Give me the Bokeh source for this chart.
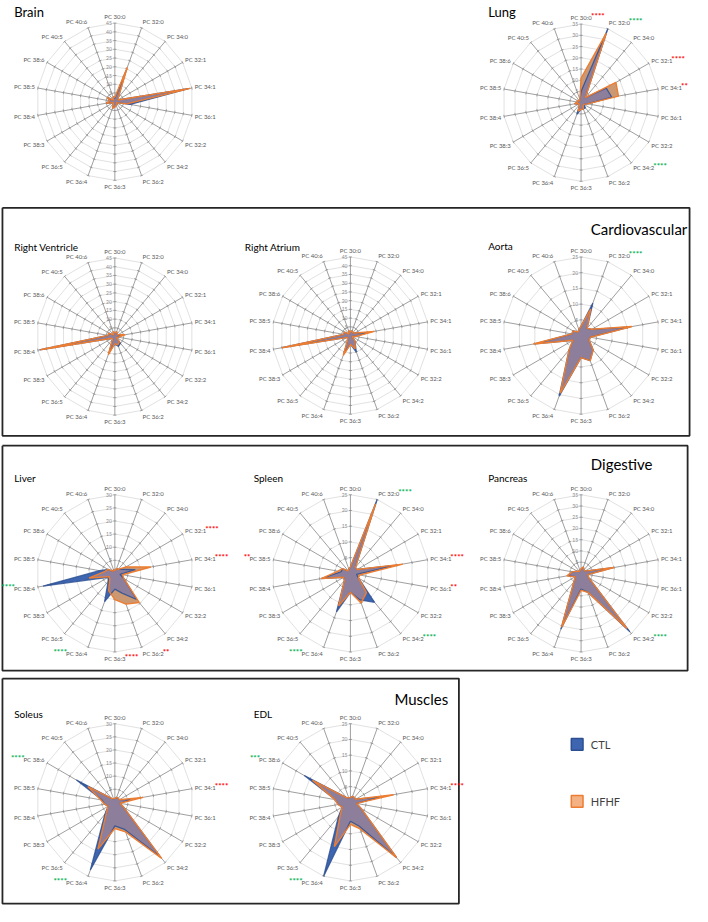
import numpy as np
from bokeh.plotting import figure
from bokeh.models import Range1d, ColumnDataSource
from bokeh.core.properties import value
from bokeh.embed import file_html
from bokeh.resources import INLINE

# ---------------- data ----------------
categories = ["PC 30:0", "PC 32:0", "PC 34:0", "PC 32:1", "PC 34:1", "PC 36:1",
              "PC 32:2", "PC 34:2", "PC 36:2", "PC 36:3", "PC 36:4", "PC 36:5",
              "PC 38:3", "PC 38:4", "PC 38:5", "PC 38:6", "PC 40:5", "PC 40:6"]

brain_ctl = [2, 19, 3, 2, 43, 9, 1, 2, 2, 3, 4, 1, 1, 5, 3, 5, 1, 3]
brain_hfhf = [2.5, 21, 3, 2, 44, 7, 1, 2, 2, 3, 4, 1, 1, 5, 3, 5, 1, 3]
lung_ctl = [5, 35, 3, 13, 14, 3, 1.5, 3, 3, 3, 5.5, 1, 1, 3, 1.5, 2, 1, 1.5]
lung_hfhf = [11, 33, 3, 18, 17, 3, 1.5, 1.5, 3, 3, 4, 1, 1, 3, 1.5, 2, 1, 1.5]
rv_ctl = [2, 3, 2, 2, 4, 2, 1, 5, 6, 4, 10, 2, 2, 44, 4, 4, 1, 3]
rv_hfhf = [2, 3, 2, 2, 6, 2, 1, 4, 5, 4, 11, 2, 2, 43.5, 4, 4, 1, 3]
ra_ctl = [2, 3, 2, 3, 10, 3, 1, 4, 10, 5, 11, 2, 2, 40, 4, 4, 1, 3]
ra_hfhf = [2, 3, 2, 3, 14, 3, 1, 4, 8, 5, 12, 2, 2, 40, 4, 4, 1, 3]
aorta_ctl = [3, 11, 3, 4, 16, 3, 3, 6, 8.5, 7, 20.5, 6, 3, 15, 3, 3, 1.5, 2]
aorta_hfhf = [3, 9, 3, 4, 16.5, 3, 3, 6, 8.5, 7, 19.5, 6, 3, 15.5, 3, 3, 1.5, 2]
liver_ctl = [1, 2, 2, 3, 8, 2, 4, 13, 8, 6, 11.5, 4, 3, 28, 6, 3, 1, 1.5]
liver_hfhf = [1, 2, 2, 5, 14, 3, 4, 14.5, 12.5, 10, 7, 3, 2.5, 10, 4, 3, 1, 1.5]
spleen_ctl = [2, 25, 2.5, 2.5, 15, 2, 3, 12, 9, 6, 13, 3, 2.5, 9.5, 3, 3, 1, 1.5]
spleen_hfhf = [2, 23.5, 2.5, 2.5, 17, 3, 3, 8, 10, 6, 11, 3, 2.5, 9.5, 4, 3, 1, 1.5]
pancreas_ctl = [2, 3, 2, 2, 14.5, 3, 4, 34, 9, 7, 26.5, 5, 3, 6, 4, 2, 1, 1.5]
pancreas_hfhf = [2, 3, 2, 2, 15, 3, 4, 32, 9, 7.5, 25.5, 5, 3, 6.5, 4, 2, 1, 1.5]
soleus_ctl = [1.5, 2, 2, 2, 6, 2, 4, 27.5, 11, 9, 27.5, 6, 3, 4, 5, 17, 2, 1.5]
soleus_hfhf = [1.5, 2, 2, 2, 11, 2, 4, 28, 12, 10, 19, 5, 3, 4, 5.5, 12, 2, 1.5]
edl_ctl = [1.5, 2, 2, 2, 10, 2, 4, 23, 8, 6, 25, 6, 3, 4, 5, 17, 2, 1.5]
edl_hfhf = [1.5, 2, 2, 2, 14, 2, 4, 23, 9, 7, 15, 5, 3, 4, 5, 14, 2, 1.5]

axis_max = {"Brain": 45, "Lung": 35, "Right Ventricle": 45, "Right Atrium": 45,
            "Aorta": 25, "Liver": 30, "Spleen": 25, "Pancreas": 35,
            "Soleus": 30, "EDL": 25}

lung_stars = [("PC 30:0", "****", "red"), ("PC 32:0", "****", "green"),
              ("PC 32:1", "****", "red"), ("PC 34:1", "**", "red"),
              ("PC 34:2", "****", "green")]
aorta_stars = [("PC 32:0", "****", "green")]
liver_stars = [("PC 32:1", "****", "red"), ("PC 34:1", "****", "red"),
               ("PC 38:4", "****", "green"), ("PC 36:4", "****", "green"),
               ("PC 36:2", "**", "red"), ("PC 36:3", "****", "red")]
spleen_stars = [("PC 32:0", "****", "green"), ("PC 34:1", "****", "red"),
                ("PC 36:1", "**", "red"), ("PC 34:2", "****", "green"),
                ("PC 36:4", "****", "green"), ("PC 38:5", "**", "red")]
pancreas_stars = [("PC 34:2", "****", "green")]
soleus_stars = [("PC 38:6", "****", "green"), ("PC 34:1", "****", "red"),
                ("PC 36:4", "****", "green")]
edl_stars = [("PC 38:6", "***", "green"), ("PC 34:1", "****", "red"),
             ("PC 36:4", "****", "green")]

series_names = ["CTL", "HFHF"]
group_titles = ["Cardiovascular", "Digestive", "Muscles"]

# ---------------- style ----------------
FONT = "Lato"
C_CTL = "#3e66b0"
C_CTL_LINE = "#2c4f92"
C_HF = "#cc9872"
C_HF_LINE = "#ed7d31"
C_MIX = "#8d7f9b"
STAR_COL = {"red": "#ff0000", "green": "#00b050"}
R = 80
LABEL_W = 20.5

W_REF, H_REF = 708, 922
p = figure(width=692, height=906, x_range=Range1d(0, W_REF), y_range=Range1d(H_REF, 0),
           output_backend="svg", toolbar_location=None, min_border=0,
           x_axis_type=None, y_axis_type=None)
p.grid.visible = False
p.outline_line_color = None
p.background_fill_color = "white"

n = len(categories)
ang = np.arange(n) * 2 * np.pi / n
S, C = np.sin(ang), np.cos(ang)


def pts(cx, cy, vals, vmax):
    r = np.asarray(vals, dtype=float) / vmax * R
    return cx + r * S, cy - r * C


def min_polygon(cx, cy, a, b, vmax):
    ax, ay = pts(cx, cy, a, vmax)
    bx, by = pts(cx, cy, b, vmax)
    xs, ys = [], []
    for i in range(n):
        j = (i + 1) % n
        if a[i] <= b[i]:
            xs.append(ax[i]); ys.append(ay[i])
        else:
            xs.append(bx[i]); ys.append(by[i])
        d0, d1 = a[i] - b[i], a[j] - b[j]
        if d0 * d1 < 0:
            M = np.array([[ax[j] - ax[i], -(bx[j] - bx[i])],
                          [ay[j] - ay[i], -(by[j] - by[i])]])
            rhs = np.array([bx[i] - ax[i], by[i] - ay[i]])
            t, s = np.linalg.solve(M, rhs)
            xs.append(ax[i] + t * (ax[j] - ax[i]))
            ys.append(ay[i] + t * (ay[j] - ay[i]))
    return xs, ys


def draw_panel(title, tx, ty, tsize, cx, cy, ctl, hfhf, stars):
    vmax = axis_max[title]
    nr = int(vmax / 5)
    # rings
    rx, ry = [], []
    for k in range(1, nr + 1):
        rr = k * R / nr
        rx.append(list(cx + rr * np.append(S, S[0])))
        ry.append(list(cy - rr * np.append(C, C[0])))
    p.multi_line(rx, ry, line_color="#d9d9d9", line_width=0.8)
    # spokes
    sx = [[cx, cx + R * S[i]] for i in range(n)]
    sy = [[cy, cy - R * C[i]] for i in range(n)]
    p.multi_line(sx, sy, line_color="#868686", line_width=0.8)
    # tick marks
    tkx, tky = [], []
    for i in range(n):
        for k in range(1, nr + 1):
            rr = k * R / nr
            px, py = cx + rr * S[i], cy - rr * C[i]
            tkx.append([px - 1.6 * C[i], px + 1.6 * C[i]])
            tky.append([py - 1.6 * S[i], py + 1.6 * S[i]])
    p.multi_line(tkx, tky, line_color="#868686", line_width=0.7)
    # scale labels
    p.text(x=[cx - 3] * (nr + 1), y=[cy - k * R / nr for k in range(nr + 1)],
           text=[str(5 * k) for k in range(nr + 1)], text_font=value(FONT),
           text_font_size=value("5px"), text_color="#8c8c8c",
           text_align="right", text_baseline="middle")
    # data
    hx, hy = pts(cx, cy, hfhf, vmax)
    bx, by = pts(cx, cy, ctl, vmax)
    p.patch(list(hx), list(hy), fill_color=C_HF, line_color=None)
    p.patch(list(bx), list(by), fill_color=C_CTL, line_color=None)
    mx, my = min_polygon(cx, cy, ctl, hfhf, vmax)
    p.patch(mx, my, fill_color=C_MIX, line_color=None)
    p.line(list(bx) + [bx[0]], list(by) + [by[0]], line_color=C_CTL_LINE,
           line_width=1.3, line_alpha=0.8)
    p.line(list(hx) + [hx[0]], list(hy) + [hy[0]], line_color=C_HF_LINE,
           line_width=1.4)
    # category labels
    lx = cx + (R + 3) * S
    ly = cy - (R + 6.5) * C
    aligns = ["center" if abs(s) < 0.05 else ("left" if s > 0 else "right") for s in S]
    src = ColumnDataSource(dict(x=list(lx), y=list(ly), t=categories, a=aligns))
    p.text(x="x", y="y", text="t", text_align="a", source=src,
           text_font=value(FONT), text_font_size=value("6px"),
           text_color="#595959", text_baseline="middle")
    # significance stars
    if stars:
        st_x, st_y, st_t, st_c, st_a = [], [], [], [], []
        for cat, txt, col in stars:
            i = categories.index(cat)
            if aligns[i] == "left":
                st_x.append(lx[i] + LABEL_W); st_a.append("left")
            elif aligns[i] == "center":
                st_x.append(lx[i] + LABEL_W / 2); st_a.append("left")
            else:
                st_x.append(lx[i] - LABEL_W); st_a.append("right")
            st_y.append(ly[i] - 1.5)
            st_t.append(txt)
            st_c.append(STAR_COL[col])
        ssrc = ColumnDataSource(dict(x=st_x, y=st_y, t=st_t, c=st_c, a=st_a))
        p.text(x="x", y="y", text="t", text_color="c", text_align="a", source=ssrc,
               text_font=value(FONT), text_font_size=value("8px"),
               text_font_style="bold", text_baseline="alphabetic")
    # title
    p.text(x=[tx], y=[ty], text=[title], text_font=value(FONT),
           text_font_size=value(tsize), text_color="#000000",
           text_align="left", text_baseline="alphabetic")


# group boxes
boxes = [(2, 705, 211, 443), (2, 703, 453, 682), (2, 469, 690, 919)]
for (x0, x1, y0, y1) in boxes:
    p.line([x0, x1, x1, x0, x0], [y0, y0, y1, y1, y0], line_color="#262626", line_width=1.8)
p.text(x=[604, 604, 403], y=[233, 472, 711], text=group_titles, text_font=value(FONT),
       text_font_size=value("15px"), text_color="#000000", text_baseline="alphabetic")

draw_panel("Brain", 14, 12, "13px", 117, 103, brain_ctl, brain_hfhf, None)
draw_panel("Lung", 499, 12, "13px", 594, 104, lung_ctl, lung_hfhf, lung_stars)
draw_panel("Right Ventricle", 14, 251, "10px", 117, 342, rv_ctl, rv_hfhf, None)
draw_panel("Right Atrium", 250, 251, "10px", 358, 341, ra_ctl, ra_hfhf, None)
draw_panel("Aorta", 499, 250, "10px", 594, 341, aorta_ctl, aorta_hfhf, aorta_stars)
draw_panel("Liver", 14, 486, "10px", 117, 583, liver_ctl, liver_hfhf, liver_stars)
draw_panel("Spleen", 259, 486, "10px", 358, 583, spleen_ctl, spleen_hfhf, spleen_stars)
draw_panel("Pancreas", 499, 486, "10px", 594, 583, pancreas_ctl, pancreas_hfhf, pancreas_stars)
draw_panel("Soleus", 14, 726, "10px", 117, 816, soleus_ctl, soleus_hfhf, soleus_stars)
draw_panel("EDL", 259, 726, "10px", 358, 816, edl_ctl, edl_hfhf, edl_stars)

# legend
p.rect(x=[590, 590], y=[757, 815], width=12, height=12,
       fill_color=[C_CTL, "#f4b183"], line_color=[C_CTL_LINE, C_HF_LINE], line_width=1.5)
p.text(x=[604, 604], y=[757, 815], text=series_names, text_font=value(FONT),
       text_font_size=value("11px"), text_color="#404040", text_baseline="middle")

open("out.html", "w").write(file_html(p, INLINE))
